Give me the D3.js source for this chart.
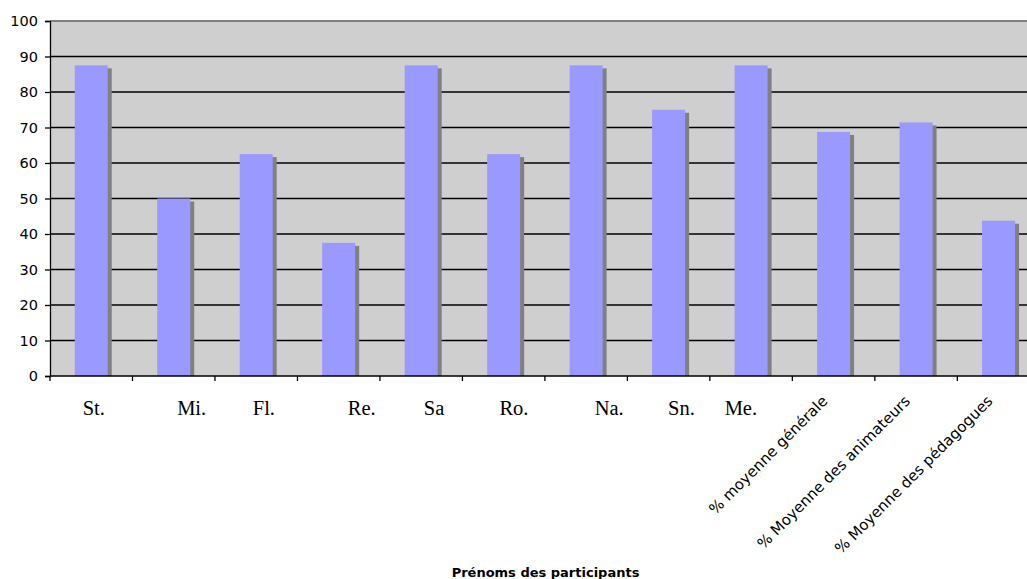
<!DOCTYPE html>
<html>
<head>
<meta charset="utf-8">
<script src="https://cdn.jsdelivr.net/npm/d3@7"></script>
<style>
  html, body { margin: 0; padding: 0; background: #ffffff; }
  svg { display: block; }
  .name { white-space: pre; }
</style>
</head>
<body>
<svg id="chart" width="1027" height="579"></svg>
<script>
// Participants (names padded as typed in the sheet) and the three averages
const categories = [
  " St.", "       Mi.", "   Fl.", "         Re.", "     Sa", "    Ro.",
  "         Na.", "     Sn.", "Me.    ",
  "% moyenne générale", "% Moyenne des animateurs", "% Moyenne des pédagogues"
];
// Score (%) for each participant / average
const scores = [87.5, 50, 62.5, 37.5, 87.5, 62.5, 87.5, 75, 87.5, 68.75, 71.43, 43.75];
// Number of categories drawn as plain serif names (the rest are rotated averages)
const plainNameCount = 9;
const yTicks = [0, 10, 20, 30, 40, 50, 60, 70, 80, 90, 100];
const xTitle = "Prénoms des participants";

const svg = d3.select("#chart");
const plotLeft = 50, plotTop = 21, plotBottom = 376, plotRight = 1039.8;

const x = d3.scaleBand()
  .domain(d3.range(categories.length))
  .range([plotLeft, plotRight])
  .paddingInner(0.6)
  .paddingOuter(0.3);
const step = x.step();
const bandStart = i => plotLeft + i * step;

const y = d3.scaleLinear().domain([0, 100]).range([plotBottom, plotTop]);

// Plot area
svg.append("rect")
  .attr("x", plotLeft).attr("y", plotTop)
  .attr("width", plotRight - plotLeft).attr("height", plotBottom - plotTop)
  .attr("fill", "#cfcfcf");

// Horizontal gridlines
svg.append("g")
  .selectAll("line")
  .data(yTicks.filter(v => v > 0 && v < 100))
  .join("line")
  .attr("x1", plotLeft).attr("x2", plotRight)
  .attr("y1", d => y(d)).attr("y2", d => y(d))
  .attr("stroke", "#000").attr("stroke-width", 1.3);

// Top border of plot area
svg.append("line")
  .attr("x1", plotLeft).attr("x2", plotRight)
  .attr("y1", y(100)).attr("y2", y(100))
  .attr("stroke", "#808080").attr("stroke-width", 2);

// Bar shadows
svg.append("g")
  .selectAll("rect")
  .data(scores)
  .join("rect")
  .attr("x", (d, i) => x(i) + 4)
  .attr("y", d => y(d) + 3)
  .attr("width", x.bandwidth())
  .attr("height", d => plotBottom - y(d) - 3)
  .attr("fill", "#808080");

// Bars
svg.append("g")
  .selectAll("rect")
  .data(scores)
  .join("rect")
  .attr("x", (d, i) => x(i))
  .attr("y", d => y(d))
  .attr("width", x.bandwidth())
  .attr("height", d => plotBottom - y(d))
  .attr("fill", "#9999ff");

// Y axis
const yAxis = svg.append("g")
  .attr("transform", `translate(${plotLeft},0)`)
  .call(d3.axisLeft(y).tickValues(yTicks).tickSize(5).tickPadding(7));
yAxis.select(".domain").attr("stroke", "#000").attr("stroke-width", 1.3);
yAxis.selectAll(".tick line").attr("stroke", "#000").attr("stroke-width", 1.3);
yAxis.selectAll(".tick text")
  .attr("font-family", "'DejaVu Sans', Verdana, sans-serif")
  .attr("font-size", 14.5)
  .attr("fill", "#000");

// X axis line and category boundary ticks
svg.append("line")
  .attr("x1", plotLeft).attr("x2", plotRight)
  .attr("y1", plotBottom).attr("y2", plotBottom)
  .attr("stroke", "#000").attr("stroke-width", 1.3);
svg.append("g")
  .selectAll("line")
  .data(d3.range(categories.length + 1))
  .join("line")
  .attr("x1", i => bandStart(i)).attr("x2", i => bandStart(i))
  .attr("y1", plotBottom).attr("y2", plotBottom + 5)
  .attr("stroke", "#000").attr("stroke-width", 1.3);

// Participant names
svg.append("g")
  .selectAll("text")
  .data(categories.slice(0, plainNameCount))
  .join("text")
  .attr("class", "name")
  .attr("x", (d, i) => x(i) + x.bandwidth() / 2)
  .attr("y", 415)
  .attr("text-anchor", "middle")
  .attr("font-family", "'Liberation Serif', 'Times New Roman', serif")
  .attr("font-size", 20.5)
  .attr("fill", "#000")
  .text(d => d);

// Averages, rotated
svg.append("g")
  .selectAll("text")
  .data(categories.slice(plainNameCount))
  .join("text")
  .attr("transform", (d, i) => {
    const cx = x(i + plainNameCount) + x.bandwidth() / 2 - 5;
    return `translate(${cx},402) rotate(-45)`;
  })
  .attr("text-anchor", "end")
  .attr("font-family", "'DejaVu Sans', Verdana, sans-serif")
  .attr("font-size", 15)
  .attr("fill", "#000")
  .text(d => d);

// Axis title
svg.append("text")
  .attr("x", 545.5)
  .attr("y", 577)
  .attr("text-anchor", "middle")
  .attr("font-family", "'DejaVu Sans', Verdana, sans-serif")
  .attr("font-weight", "bold")
  .attr("font-size", 13)
  .attr("fill", "#000")
  .text(xTitle);
</script>
</body>
</html>
